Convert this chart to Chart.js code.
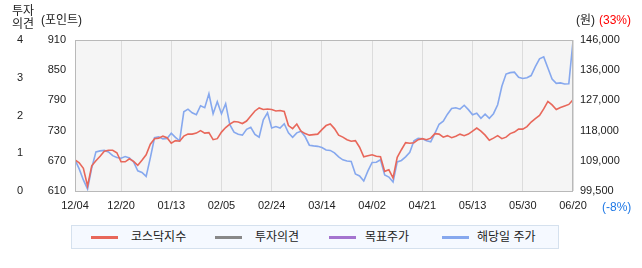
<!DOCTYPE html>
<html><head><meta charset="utf-8">
<script src="https://cdn.jsdelivr.net/npm/chart.js@4/dist/chart.umd.min.js"></script>
<style>
html,body{margin:0;padding:0;background:#fff;}
#wrap{position:relative;width:642px;height:268px;font-family:"Liberation Sans","Noto Sans CJK KR",sans-serif;color:#222;}
#c{position:absolute;left:0;top:0;}
.t{position:absolute;font-size:12px;line-height:13px;white-space:nowrap;}
#legend{position:absolute;left:71px;top:225px;width:486px;height:22px;background:#f5f9ff;border:1px solid #d5e1ee;}
.li{position:absolute;top:0;height:22px;line-height:22px;font-size:12px;color:#222;}
.sw{position:absolute;top:10px;width:27px;height:3px;}
</style></head>
<body>
<div id="wrap">
<canvas id="c" width="642" height="268"></canvas>
<div class="t" style="left:12px;top:5px;">투자<br>의견</div>
<div class="t" style="left:41px;top:14px;">(포인트)</div>
<div class="t" style="left:576px;top:14px;">(원)</div>
<div class="t" style="left:599px;top:14px;color:#ff0000;">(33%)</div>
<div class="t" style="left:602px;top:201px;color:#1e78e6;">(-8%)</div>
<div id="legend">
  <div class="sw" style="left:19px;background:#e8675a;"></div><div class="li" style="left:59px;">코스닥지수</div>
  <div class="sw" style="left:143px;background:#888888;"></div><div class="li" style="left:183px;">투자의견</div>
  <div class="sw" style="left:257px;background:#a474cf;"></div><div class="li" style="left:293px;">목표주가</div>
  <div class="sw" style="left:370px;background:#86a8ee;"></div><div class="li" style="left:405px;">해당일 주가</div>
</div>
</div>
<script>
const dates = ['12/04','12/20','01/13','02/05','02/24','03/14','04/02','04/21','05/13','05/30','06/20'];
const dateIdx = [0,11,23,35,47,59,71,83,95,107,119];
const kosdaq = [
672,666,655,620,660,670,679,689,691,691,
686,668,668,674,669,661,671,682,703,714,
715,719,716,705,710,709,719,723,723,725,
730,725,726,712,714,727,736,743,748,747,
744,749,759,769,775,772,773,772,769,770,
768,740,734,743,729,724,721,722,723,732,
740,743,734,721,717,712,709,710,697,678,
680,682,679,678,649,652,636,677,692,706,
705,706,712,714,712,715,724,723,717,720,
716,719,723,720,723,729,735,729,721,711,
715,720,714,717,724,727,733,733,738,747,
754,760,773,788,781,772,776,779,782,791];
const price = [
109100,106300,102900,100100,106600,111550,111860,112000,111550,110400,
109800,109600,110100,109700,108450,105700,105200,104000,109700,115900,
116200,115550,115700,117300,116000,114950,123900,124700,123600,123000,
125750,125150,129450,123300,127000,123300,126400,119900,117600,116950,
116700,118500,119100,116950,116050,121450,123600,118900,119350,118900,
120200,117400,116050,117400,117900,116200,113600,113400,113250,112900,
112150,112000,111250,110000,109100,108750,108600,104750,104150,102600,
105700,108300,108350,109100,104450,103800,102300,108450,108900,110000,
111400,114950,115700,115550,114950,114650,117250,120050,121000,123150,
124900,125150,124700,125900,124550,123000,123450,121900,123150,121900,
123300,126050,131750,135500,135950,136100,134500,134150,134400,135050,
137800,140200,140800,137400,133950,132650,132800,132450,132550,145650];
const opinion = [];
const target = [];
const kTicks = [610,670,730,790,850,910];
const opTicks = [0,1,2,3,4];
const pTickLabels = ['99,500','109,000','118,000','127,000','136,000','146,000'];
const pMin = 99500, pMax = 146000;

const toXY = arr => arr.map((v,i)=>({x:i,y:v}));
const tickFont = {family:'"Liberation Sans","Noto Sans CJK KR",sans-serif', size:11};

const bgPlugin = {
  id:'bg',
  beforeDraw(chart){
    const a = chart.chartArea, ctx = chart.ctx;
    ctx.save(); ctx.fillStyle = '#f5f5f5';
    ctx.fillRect(a.left, a.top, a.right-a.left, a.bottom-a.top);
    ctx.restore();
  },
  afterDraw(chart){
    const a = chart.chartArea, ctx = chart.ctx;
    ctx.save(); ctx.strokeStyle = '#b9b9b9'; ctx.lineWidth = 1;
    ctx.strokeRect(Math.round(a.left)+0.5, Math.round(a.top)+0.5, Math.round(a.right-a.left)-1, Math.round(a.bottom-a.top));
    ctx.restore();
  }
};

new Chart(document.getElementById('c'), {
  type:'line',
  data:{
    datasets:[
      {label:'코스닥지수', data:toXY(kosdaq), yAxisID:'yK', borderColor:'#e8675a', borderWidth:1.6, pointRadius:0, tension:0},
      {label:'투자의견', data:toXY(opinion), yAxisID:'yOp', borderColor:'#888888', borderWidth:1.5, pointRadius:0},
      {label:'목표주가', data:toXY(target), yAxisID:'yP', borderColor:'#a474cf', borderWidth:1.5, pointRadius:0},
      {label:'해당일 주가', data:toXY(price), yAxisID:'yP', borderColor:'#86a8ee', borderWidth:1.6, pointRadius:0, tension:0}
    ]
  },
  options:{
    responsive:false, animation:false, devicePixelRatio:1,
    layout:{padding:{top:40,bottom:52,left:0,right:0}},
    plugins:{legend:{display:false}, tooltip:{enabled:false}},
    scales:{
      x:{type:'linear', min:0, max:119,
        afterBuildTicks:s=>{ s.ticks = dateIdx.map(v=>({value:v})); },
        afterFit:s=>{ s.height = 25; },
        grid:{color:'#dcdcdc', drawTicks:false, lineWidth:1},
        border:{display:false},
        ticks:{autoSkip:false, maxRotation:0, padding:8, color:'#222', font:tickFont,
          callback:(v)=>{ const k = dateIdx.indexOf(v); return k>=0 ? dates[k] : ''; }}
      },
      yK:{position:'left', weight:0, min:610, max:910,
        afterBuildTicks:s=>{ s.ticks = kTicks.map(v=>({value:v})); },
        afterFit:s=>{ s.width = 40; },
        grid:{display:false, drawTicks:false}, border:{display:false},
        ticks:{padding:9, color:'#222', font:tickFont}
      },
      yOp:{position:'left', weight:1, min:0, max:4,
        afterBuildTicks:s=>{ s.ticks = opTicks.map(v=>({value:v})); },
        afterFit:s=>{ s.width = 35; },
        grid:{display:false, drawTicks:false}, border:{display:false},
        ticks:{padding:12, color:'#222', font:tickFont}
      },
      yP:{position:'right', min:pMin, max:pMax,
        afterBuildTicks:s=>{ s.ticks = pTickLabels.map((t,i)=>({value:pMin + i*(pMax-pMin)/5})); },
        afterFit:s=>{ s.width = 69; },
        grid:{display:false, drawTicks:false}, border:{display:false},
        ticks:{padding:7, color:'#222', font:tickFont, callback:(v,i)=>pTickLabels[i]}
      }
    }
  },
  plugins:[bgPlugin]
});
</script>
</body></html>
